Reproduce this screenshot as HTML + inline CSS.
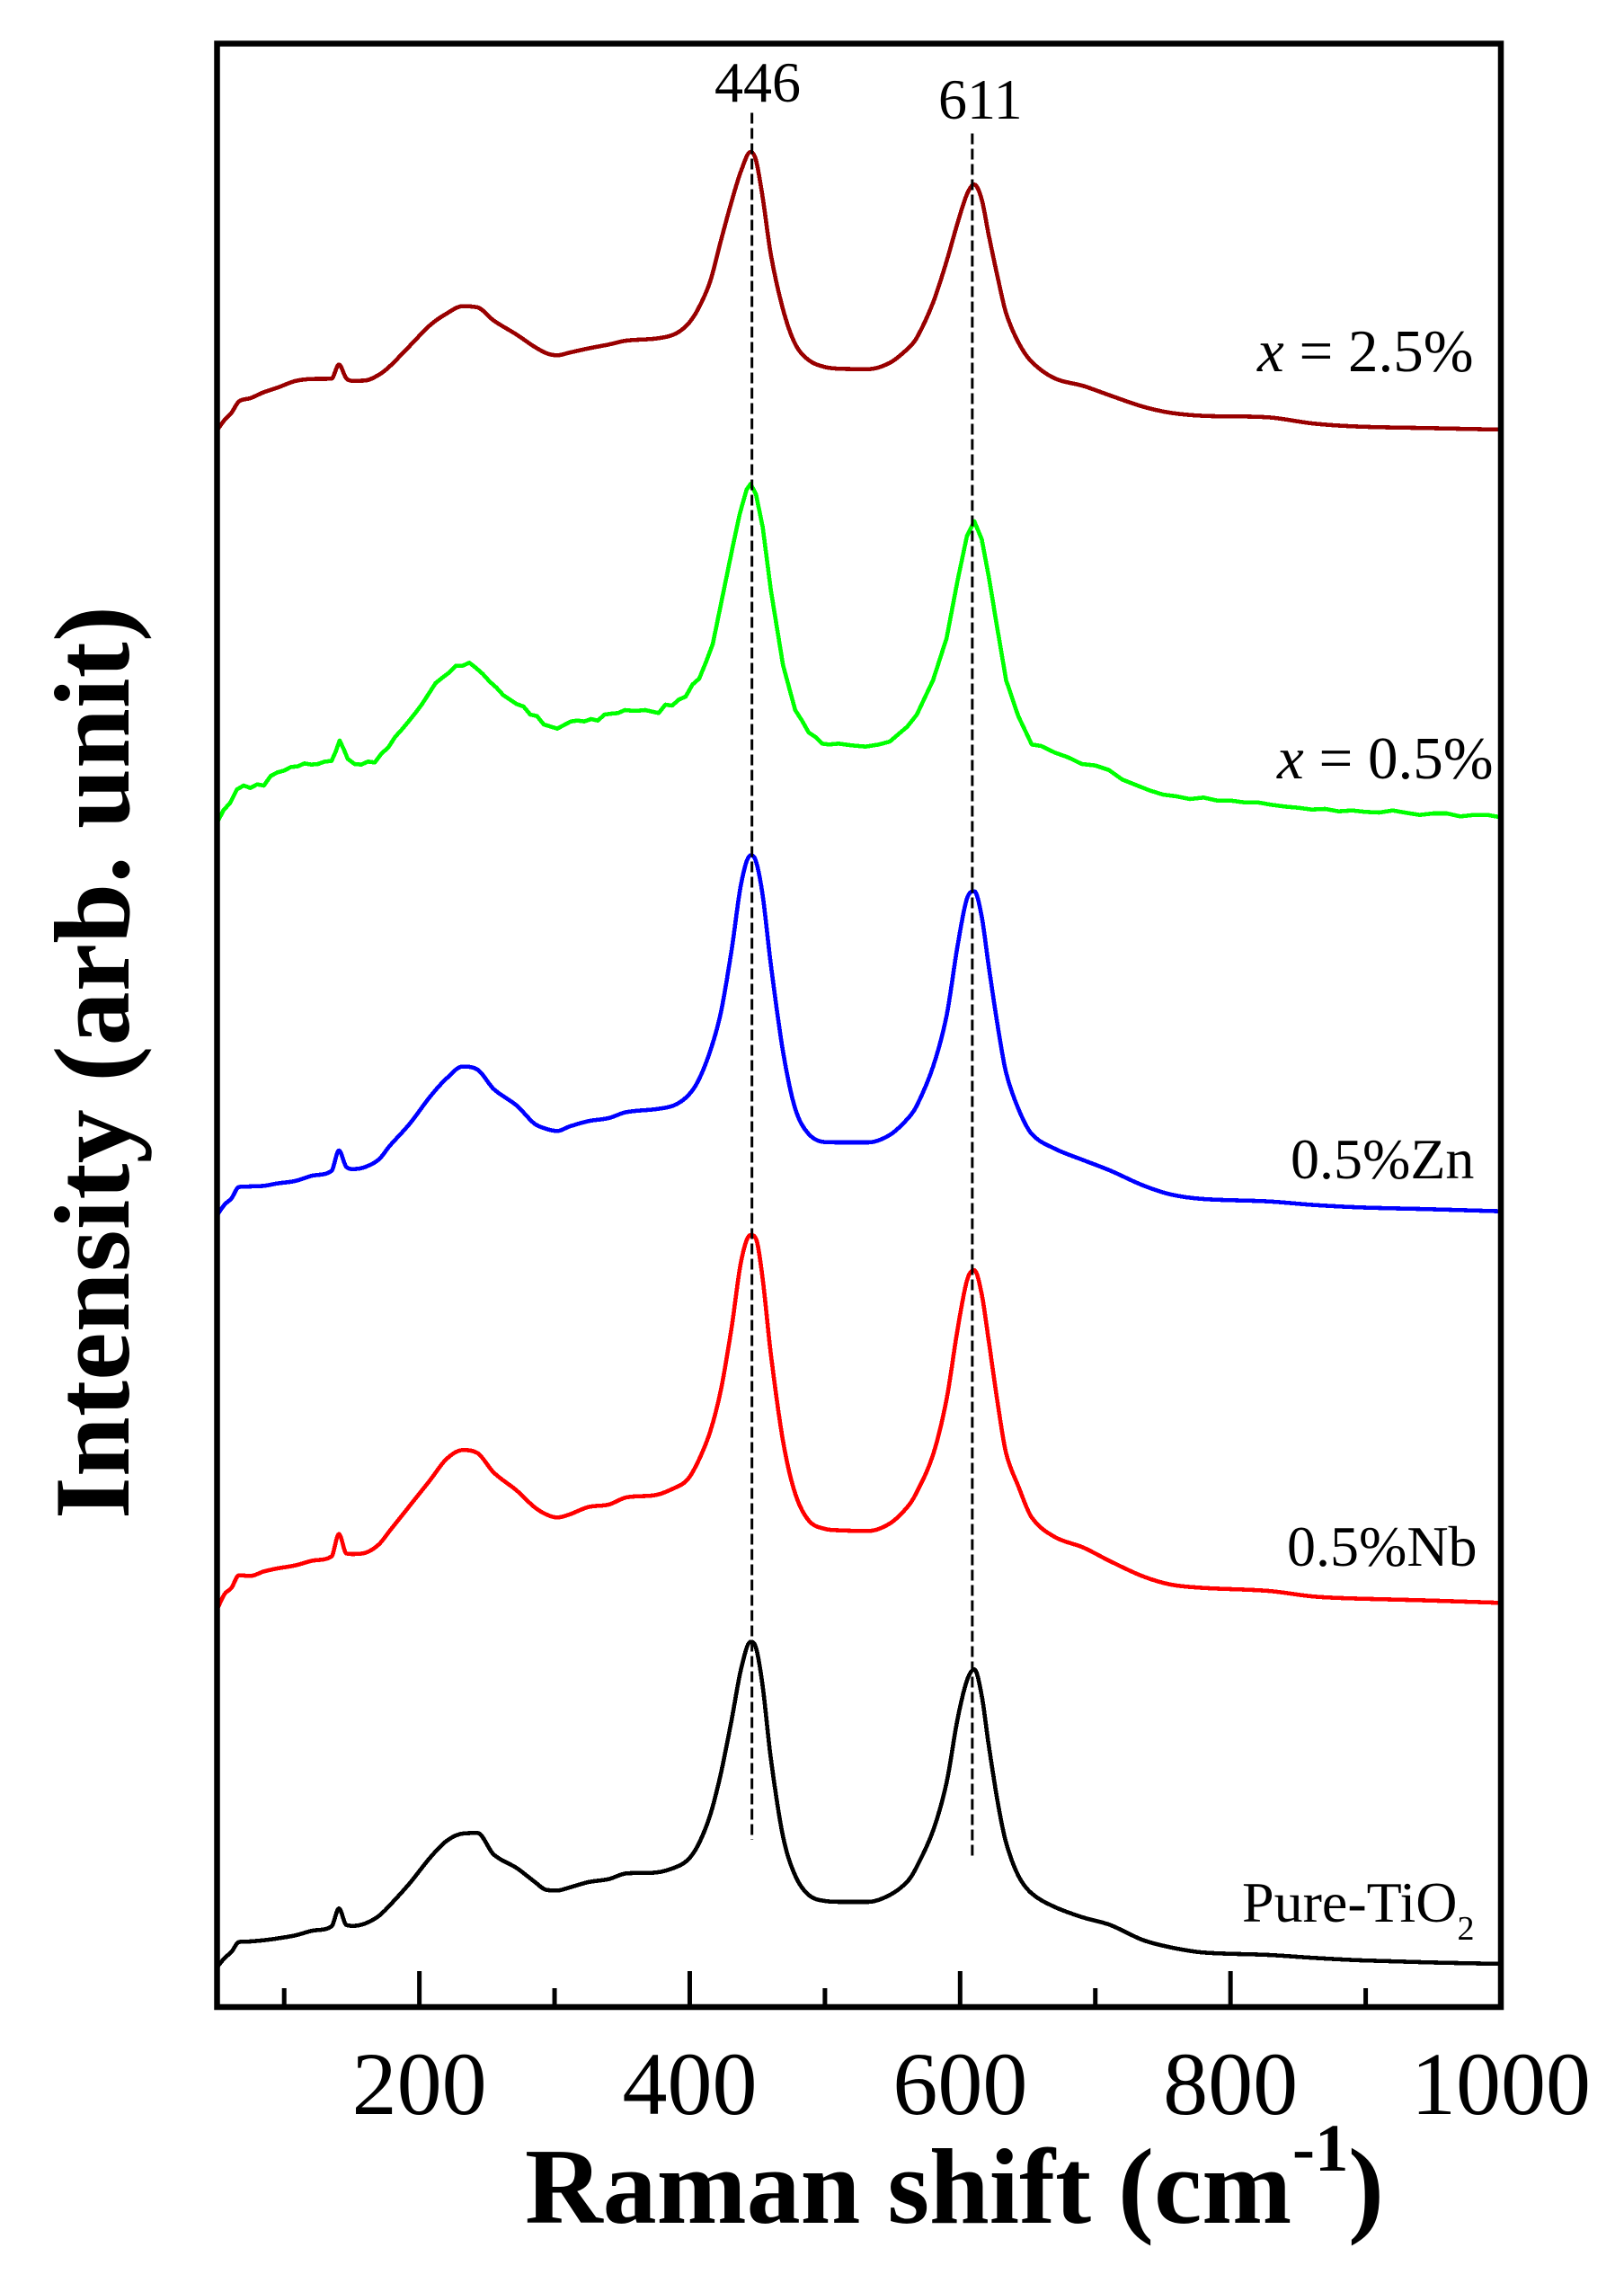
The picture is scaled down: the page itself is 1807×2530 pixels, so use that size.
<!DOCTYPE html>
<html lang="en">
<head>
<meta charset="utf-8">
<title>Raman spectra</title>
<style>
html,body{margin:0;padding:0;background:#fff;}
svg{display:block;}
text{font-family:"Liberation Serif","DejaVu Serif",serif;fill:#000;}
</style>
</head>
<body>
<svg id="chart" xmlns="http://www.w3.org/2000/svg" width="1807" height="2530" viewBox="0 0 1807 2530">
  <rect x="0" y="0" width="1807" height="2530" fill="#fff"/>
  <g id="series-layer"></g>
  <g id="tick-layer"></g>
  <g id="dash-layer"></g>
  <rect x="241.5" y="48.5" width="1428.5" height="2184.5" fill="none" stroke="#000" stroke-width="6.5"/>
  <g id="tick-label-layer"></g>

  <text x="795" y="113" font-size="64">446</text>
  <text x="1044" y="132" font-size="64">611</text>

  <text x="1399" y="413" font-size="67"><tspan font-style="italic">x</tspan> = 2.5%</text>
  <text x="1421" y="866" font-size="67"><tspan font-style="italic">x</tspan> = 0.5%</text>
  <text x="1436" y="1311" font-size="64">0.5%Zn</text>
  <text x="1432" y="1742" font-size="64">0.5%Nb</text>
  <text x="1382" y="2138" font-size="64">Pure-TiO<tspan font-size="38" dy="20">2</tspan></text>

  <text x="584" y="2473" font-size="120" font-weight="bold">Raman shift (cm</text>
  <text x="1438" y="2415" font-size="75" font-weight="bold">-1</text>
  <text x="1500" y="2473" font-size="120" font-weight="bold">)</text>
  <text transform="translate(143,1690) rotate(-90)" font-size="120" font-weight="bold" textLength="1016" lengthAdjust="spacing">Intensity (arb. unit)</text>
</svg>

<script>
// Tick values
var majorTicks = [200, 400, 600, 800, 1000];
var minorTicks = [100, 300, 500, 700, 900];
var tickLabels = ["200", "400", "600", "800", "1000"];

// Peak reference lines (Raman shift, cm-1)
var referenceShifts = [446, 609];

// Shared Raman shift grid for the smooth spectra
var shifts = [
  50.5,56,61,66.5,75,85,95,108,120,135,
  140.5,146,151,160,170,178,193,208,220,232,
  243,255,272,285,294,302,311,325,340,353,
  375,388,398,406,415,423,431,438,445,449,
  454,460,469,478,488,500,512,532,548,561,
  568,580,590,598,605,610.5,616,621,628,634,
  643,653,670,691,711,735,756,780,828,862,
  896,947,1000
];

// Intensities (arbitrary counts)
var intensityDoped25 = [
  65,99,122,160,171,191,206,228,235,236,
  283,237,229,230,249,277,346,415,453,478,
  474,430,383,343,321,314,323,337,350,363,
  370,383,415,467,559,696,828,930,993,965,
  840,650,467,352,298,275,269,268,289,335,
  373,490,628,754,851,884,834,719,570,455,
  358,292,237,212,180,143,122,112,107,86,
  76,71,66
];
var intensityZn = [
  265,300,320,358,360,362,370,378,395,412,
  480,425,418,425,450,495,570,660,720,760,
  750,685,630,570,552,545,560,578,588,608,
  618,630,660,710,810,940,1150,1370,1465,1445,
  1330,1100,810,620,535,508,507,507,532,585,
  630,760,930,1160,1320,1345,1260,1100,890,740,
  620,535,486,448,413,364,333,318,310,298,
  290,284,277
];
var intensityNb = [
  210,260,280,322,320,335,345,355,370,385,
  460,395,393,397,425,470,555,640,710,740,
  730,665,605,550,525,515,525,550,558,582,
  590,612,640,700,800,940,1150,1370,1458,1445,
  1310,1060,770,595,505,477,472,470,495,550,
  600,725,910,1140,1305,1340,1260,1110,890,730,
  620,515,450,415,369,319,291,280,270,251,
  244,238,230
];
var intensityPure = [
  335,365,385,418,420,424,430,440,455,470,
  530,475,472,480,505,540,615,700,755,780,
  782,710,665,620,592,590,600,618,628,647,
  650,665,690,740,840,980,1160,1330,1420,1400,
  1270,1030,770,640,575,555,552,552,575,620,
  670,790,950,1160,1290,1328,1240,1080,880,750,
  640,580,535,500,475,425,400,383,375,365,
  357,350,345
];

// The x = 0.5% spectrum is noisy, so it has its own finer grid
var shiftsDoped05 = [
  50.5,55,60,65,70,75,80,85,90,95,100,105,110,115,120,125,130,135,138,141,144,147,
  152,157,162,167,172,177,182,187,192,197,202,207,212,217,222,227,232,237,242,247,
  252,257,262,267,272,277,282,287,292,297,302,307,312,317,322,327,332,337,342,347,
  352,357,362,367,372,377,382,387,392,397,402,407,412,417,422,427,432,437,442,445,
  449,454,460,469,478,483,488,493,498,503,510,520,530,540,548,561,568,580,590,598,
  605,610.5,616,621,628,634,643,653,660,670,680,690,700,710,720,730,740,750,760,770,
  780,790,800,810,820,830,840,850,860,870,880,890,900,910,920,930,940,950,960,970,
  980,990,1000
];
var intensityDoped05 = [
  255,295,320,365,378,370,382,378,410,422,428,440,442,452,448,450,458,460,490,528,500,467,
  450,448,458,455,485,505,540,565,592,620,650,685,720,738,755,778,778,788,770,750,
  725,705,680,665,650,642,615,610,582,575,568,580,592,595,592,600,595,615,618,620,
  630,628,628,630,625,620,648,645,665,675,715,735,790,850,960,1070,1180,1285,1365,1385,
  1350,1240,1030,780,630,595,555,540,518,515,518,512,508,515,525,575,615,730,870,1060,
  1210,1260,1200,1080,890,730,610,515,510,488,472,450,445,430,398,380,362,348,342,333,
  338,328,328,322,322,314,308,304,298,300,292,295,290,288,295,287,280,285,285,275,
  280,280,272
];

// Vertical stacking offsets (counts)
var offsetDoped25 = 5199;
var offsetDoped05 = 3699;
var offsetZn = 2379;
var offsetNb = 1119;
var offsetPure = -201;

// Axis functions
var xDomain = [50, 1000];
var xRange = [241, 1670];
var yDomain = [0, 6552];
var yRange = [2233, 49];
function xScale(v) {
  return xRange[0] + (v - xDomain[0]) * (xRange[1] - xRange[0]) / (xDomain[1] - xDomain[0]);
}
function yScale(v) {
  return yRange[0] + (v - yDomain[0]) * (yRange[1] - yRange[0]) / (yDomain[1] - yDomain[0]);
}

var SVGNS = "http://www.w3.org/2000/svg";

// Straight-segment path, used for the noisy trace
function linearPath(px, py) {
  var d = "M" + px[0].toFixed(2) + " " + py[0].toFixed(2);
  for (var i = 1; i < px.length; i++) {
    d += "L" + px[i].toFixed(2) + " " + py[i].toFixed(2);
  }
  return d;
}

// Cubic path with centred tangents, limited so nothing overshoots at extrema
function smoothPath(px, py) {
  var n = px.length, dx = [], m = [], t = [], i;
  for (i = 0; i < n - 1; i++) {
    dx[i] = px[i + 1] - px[i];
    m[i] = (py[i + 1] - py[i]) / dx[i];
  }
  t[0] = m[0];
  t[n - 1] = m[n - 2];
  for (i = 1; i < n - 1; i++) {
    if (m[i - 1] * m[i] <= 0) {
      t[i] = 0;
    } else {
      var c = (py[i + 1] - py[i - 1]) / (px[i + 1] - px[i - 1]);
      var lim = 3 * Math.min(Math.abs(m[i - 1]), Math.abs(m[i]));
      t[i] = Math.abs(c) > lim ? (c > 0 ? lim : -lim) : c;
    }
  }
  var d = "M" + px[0].toFixed(2) + " " + py[0].toFixed(2);
  for (i = 0; i < n - 1; i++) {
    var h = dx[i] / 3;
    d += "C" + (px[i] + h).toFixed(2) + " " + (py[i] + t[i] * h).toFixed(2) + " " +
         (px[i + 1] - h).toFixed(2) + " " + (py[i + 1] - t[i + 1] * h).toFixed(2) + " " +
         px[i + 1].toFixed(2) + " " + py[i + 1].toFixed(2);
  }
  return d;
}

function buildSeriesPath(xs, ys, offset, noisy) {
  var px = [], py = [];
  for (var i = 0; i < xs.length; i++) {
    px.push(xScale(xs[i]));
    py.push(yScale(ys[i] + offset));
  }
  return noisy ? linearPath(px, py) : smoothPath(px, py);
}

function styleSeries(el, color) {
  el.setAttribute("fill", "none");
  el.setAttribute("stroke", color);
  el.setAttribute("stroke-width", "4.6");
  el.setAttribute("stroke-linejoin", "round");
  el.setAttribute("shape-rendering", "crispEdges");
}

var seriesLayer = document.getElementById("series-layer");

var lineDoped25 = document.createElementNS(SVGNS, "path");


lineDoped25.setAttribute("d", buildSeriesPath(shifts, intensityDoped25, offsetDoped25, false));
styleSeries(lineDoped25, "#990000");
seriesLayer.appendChild(lineDoped25);

var lineDoped05 = document.createElementNS(SVGNS, "path");


lineDoped05.setAttribute("d", buildSeriesPath(shiftsDoped05, intensityDoped05, offsetDoped05, true));
styleSeries(lineDoped05, "#00ff00");
seriesLayer.appendChild(lineDoped05);

var lineZn = document.createElementNS(SVGNS, "path");


lineZn.setAttribute("d", buildSeriesPath(shifts, intensityZn, offsetZn, false));
styleSeries(lineZn, "#0000ff");
seriesLayer.appendChild(lineZn);

var lineNb = document.createElementNS(SVGNS, "path");


lineNb.setAttribute("d", buildSeriesPath(shifts, intensityNb, offsetNb, false));
styleSeries(lineNb, "#ff0000");
seriesLayer.appendChild(lineNb);

var linePure = document.createElementNS(SVGNS, "path");


linePure.setAttribute("d", buildSeriesPath(shifts, intensityPure, offsetPure, false));
styleSeries(linePure, "#000000");
seriesLayer.appendChild(linePure);

// Ticks and tick labels
var tickLayer = document.getElementById("tick-layer");
var labelLayer = document.getElementById("tick-label-layer");

majorTicks.forEach(function (v, i) {
  var tick = document.createElementNS(SVGNS, "line");
  
  
  tick.setAttribute("x1", xScale(v));
  tick.setAttribute("x2", xScale(v));
  tick.setAttribute("y1", yRange[0]);
  tick.setAttribute("y2", yRange[0] - 40);
  tick.setAttribute("stroke", "#000");
  tick.setAttribute("stroke-width", "5");
  tickLayer.appendChild(tick);

  var label = document.createElementNS(SVGNS, "text");
  
  
  label.setAttribute("x", xScale(v));
  label.setAttribute("y", "2352");
  label.setAttribute("font-size", "100");
  label.setAttribute("text-anchor", "middle");
  label.textContent = tickLabels[i];
  labelLayer.appendChild(label);
});

minorTicks.forEach(function (v) {
  var tick = document.createElementNS(SVGNS, "line");
  
  
  tick.setAttribute("x1", xScale(v));
  tick.setAttribute("x2", xScale(v));
  tick.setAttribute("y1", yRange[0]);
  tick.setAttribute("y2", yRange[0] - 21);
  tick.setAttribute("stroke", "#000");
  tick.setAttribute("stroke-width", "5");
  tickLayer.appendChild(tick);
});

// Dashed peak reference lines
var dashLayer = document.getElementById("dash-layer");

var dash446 = document.createElementNS(SVGNS, "line");


dash446.setAttribute("x1", xScale(referenceShifts[0]));
dash446.setAttribute("x2", xScale(referenceShifts[0]));
dash446.setAttribute("y1", "125.5");
dash446.setAttribute("y2", "2047");
dash446.setAttribute("stroke", "#000");
dash446.setAttribute("stroke-width", "3");
dash446.setAttribute("stroke-dasharray", "12 5");
dashLayer.appendChild(dash446);

var dash611 = document.createElementNS(SVGNS, "line");


dash611.setAttribute("x1", xScale(referenceShifts[1]));
dash611.setAttribute("x2", xScale(referenceShifts[1]));
dash611.setAttribute("y1", "148.5");
dash611.setAttribute("y2", "2068");
dash611.setAttribute("stroke", "#000");
dash611.setAttribute("stroke-width", "3");
dash611.setAttribute("stroke-dasharray", "12 5");
dashLayer.appendChild(dash611);
</script>
</body>
</html>
